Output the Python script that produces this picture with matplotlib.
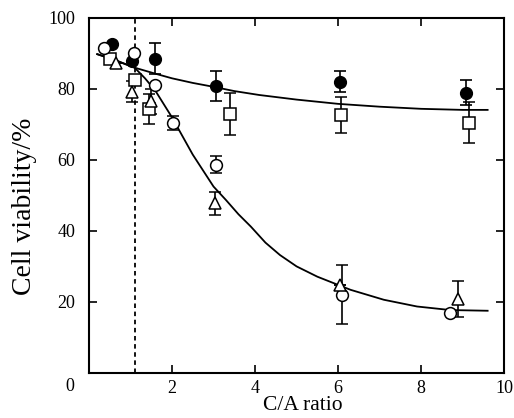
import matplotlib.pyplot as plt

plt.rcParams['font.family'] = ['Liberation Serif', 'DejaVu Serif']

# filled circles
fc_x = [0.55, 1.03, 1.59, 3.06, 6.05, 9.08]
fc_y = [92.6, 88.0, 88.5, 80.8, 82.0, 78.9]
fc_e = [0, 0, 4.4, 4.2, 3.0, 3.5]

# open squares
sq_x = [0.51, 1.11, 1.45, 3.40, 6.06, 9.14]
sq_y = [88.4, 82.5, 74.3, 72.9, 72.7, 70.5]
sq_e = [0, 0, 4.2, 5.9, 5.0, 5.8]

# open circles
oc_x = [0.37, 1.08, 1.60, 2.03, 3.06, 6.10, 8.70]
oc_y = [91.6, 90.0, 81.1, 70.5, 58.7, 22.0, 16.8]
oc_e = [0, 0, 0, 2.0, 2.4, 8.3, 0]

# open triangles
tr_x = [0.65, 1.03, 1.50, 3.04, 6.05, 8.88]
tr_y = [87.2, 79.2, 76.5, 47.8, 24.8, 20.8]
tr_e = [0, 3.0, 3.5, 3.3, 0, 5.2]

# fitted curves
up_x = [0.2, 0.6, 1.1, 1.6, 2.0, 2.5, 3.0, 3.5, 4.1, 5.0, 6.0, 7.0, 8.0, 9.0, 9.6]
up_y = [89.8, 88.2, 86.0, 84.3, 83.0, 81.7, 80.6, 79.4, 78.3, 77.0, 75.8, 75.0, 74.4, 74.1, 74.1]
lo_x = [0.2, 0.6, 1.1, 1.35, 1.6, 2.0, 2.5, 3.0, 3.3, 3.6, 3.9, 4.25, 4.6, 5.0, 5.5,
        6.3, 7.1, 7.9, 8.7, 9.6]
lo_y = [89.8, 88.3, 86.0, 83.0, 79.5, 72.0, 61.5, 52.5, 48.7, 44.7, 41.2, 36.7, 33.2, 30.0, 27.1,
        23.4, 20.6, 18.7, 17.7, 17.5]

dash_x = 1.1

fig = plt.figure(figsize=(5.14, 4.18), dpi=100)
ax = fig.add_axes([0.173, 0.108, 0.808, 0.849])

ax.plot(up_x, up_y, color='black', lw=1.3)
ax.plot(lo_x, lo_y, color='black', lw=1.3)
ax.axvline(dash_x, color='black', lw=1.3, ls=(0, (2.5, 2)))

eb = dict(color='black', capsize=4, elinewidth=1.2, capthick=1.2, ms=8.5, ls='none', zorder=3)
ax.errorbar(fc_x, fc_y, yerr=fc_e, fmt='o', mfc='black', mec='black', **eb)
ax.errorbar(sq_x, sq_y, yerr=sq_e, fmt='s', mfc='white', mec='black', mew=1.1, **eb)
ax.errorbar(oc_x, oc_y, yerr=oc_e, fmt='o', mfc='white', mec='black', mew=1.1, **eb)
ax.errorbar(tr_x, tr_y, yerr=tr_e, fmt='^', mfc='white', mec='black', mew=1.1, **eb)

ax.set_xlim(0, 10)
ax.set_ylim(0, 100)
ax.set_xticks([0, 2, 4, 6, 8, 10])
ax.set_yticks([0, 20, 40, 60, 80, 100])
ax.set_xticklabels(['', '2', '4', '6', '8', '10'])
ax.set_yticklabels(['', '20', '40', '60', '80', '100'])
ax.tick_params(direction='in', top=True, right=True, length=6, width=1.2, labelsize=13)
ax.tick_params(axis='x', pad=5)
ax.tick_params(axis='y', pad=10)
for s in ax.spines.values():
    s.set_linewidth(1.5)
ax.text(-0.45, -1.5, '0', ha='center', va='top', fontsize=13)
ax.set_xlabel('C/A ratio', fontsize=15.5, va='top')
ax.xaxis.set_label_coords(0.516, -0.066)
ax.set_ylabel('Cell viability/%', fontsize=20)
ax.yaxis.set_label_coords(-0.125, 0.47)

plt.savefig('out.png', dpi=100)
